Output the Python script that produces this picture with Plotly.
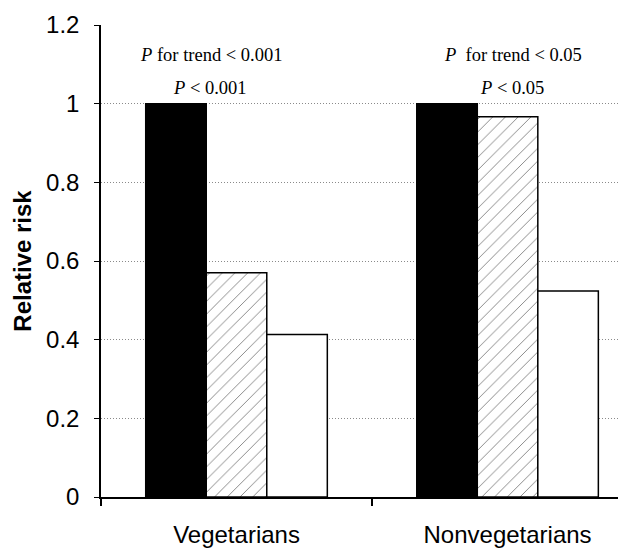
import plotly.graph_objects as go

categories = ["Vegetarians", "Nonvegetarians"]
series_names = ["Low", "Middle", "High"]
low_values = [1.0, 1.0]
mid_values = [0.57, 0.967]
high_values = [0.413, 0.524]
trend_labels = ["<i>P</i> for trend &lt; 0.001", "<i>P</i>  for trend &lt; 0.05"]
p_labels = ["<i>P</i> &lt; 0.001", "<i>P</i> &lt; 0.05"]
label_offsets = [-0.093, 0.02]
y_ticks = [0, 0.2, 0.4, 0.6, 0.8, 1, 1.2]

fig = go.Figure()
fig.add_trace(go.Bar(x=categories, y=low_values, name=series_names[0],
                     marker=dict(color="black", line=dict(color="black", width=1.5))))
fig.add_trace(go.Bar(x=categories, y=mid_values, name=series_names[1],
                     marker=dict(color="white", line=dict(color="black", width=1.5),
                                 pattern=dict(shape="/", fgcolor="black", bgcolor="white",
                                              size=9, solidity=0.1))))
fig.add_trace(go.Bar(x=categories, y=high_values, name=series_names[2],
                     marker=dict(color="white", line=dict(color="black", width=1.5))))

for i, cat in enumerate(categories):
    fig.add_annotation(x=i + label_offsets[i], y=1.125, text=trend_labels[i], showarrow=False,
                       xref="x", yref="y",
                       font=dict(family="Liberation Serif", size=18.5, color="black"))
    fig.add_annotation(x=i + label_offsets[i] - 0.005, y=1.041, text=p_labels[i], showarrow=False,
                       xref="x", yref="y",
                       font=dict(family="Liberation Serif", size=18.5, color="black"))

# page body has an 8px default margin; figure sized to fill the rest of the window
fig.update_layout(
    width=618, height=540,
    margin=dict(l=93, r=0, t=17, b=51),
    paper_bgcolor="white", plot_bgcolor="white",
    barmode="group", bargap=0.33, bargroupgap=0,
    showlegend=False,
    font=dict(family="Liberation Sans", color="black", size=24),
)
fig.update_xaxes(range=[-0.5, 1.437], showline=True, linecolor="black", linewidth=1.5,
                 ticks="outside", tickson="boundaries", ticklen=7, tickcolor="black", tickwidth=1.5,
                 showgrid=False, tickfont=dict(size=24), ticklabelstandoff=15, automargin=False)
fig.update_yaxes(range=[0, 1.2], tickvals=y_ticks, ticktext=[f"{v:g}" for v in y_ticks],
                 showline=True, linecolor="black", linewidth=1.5,
                 ticks="outside", ticklen=5, tickcolor="black", tickwidth=1,
                 showgrid=True, gridcolor="#8a8a8a", griddash="1px,2px", gridwidth=1,
                 zeroline=False, tickfont=dict(size=24), ticklabelstandoff=10, automargin=False,
                 title=dict(text="<b>Relative risk</b>", font=dict(size=24), standoff=8))

fig.write_html("out.html")
